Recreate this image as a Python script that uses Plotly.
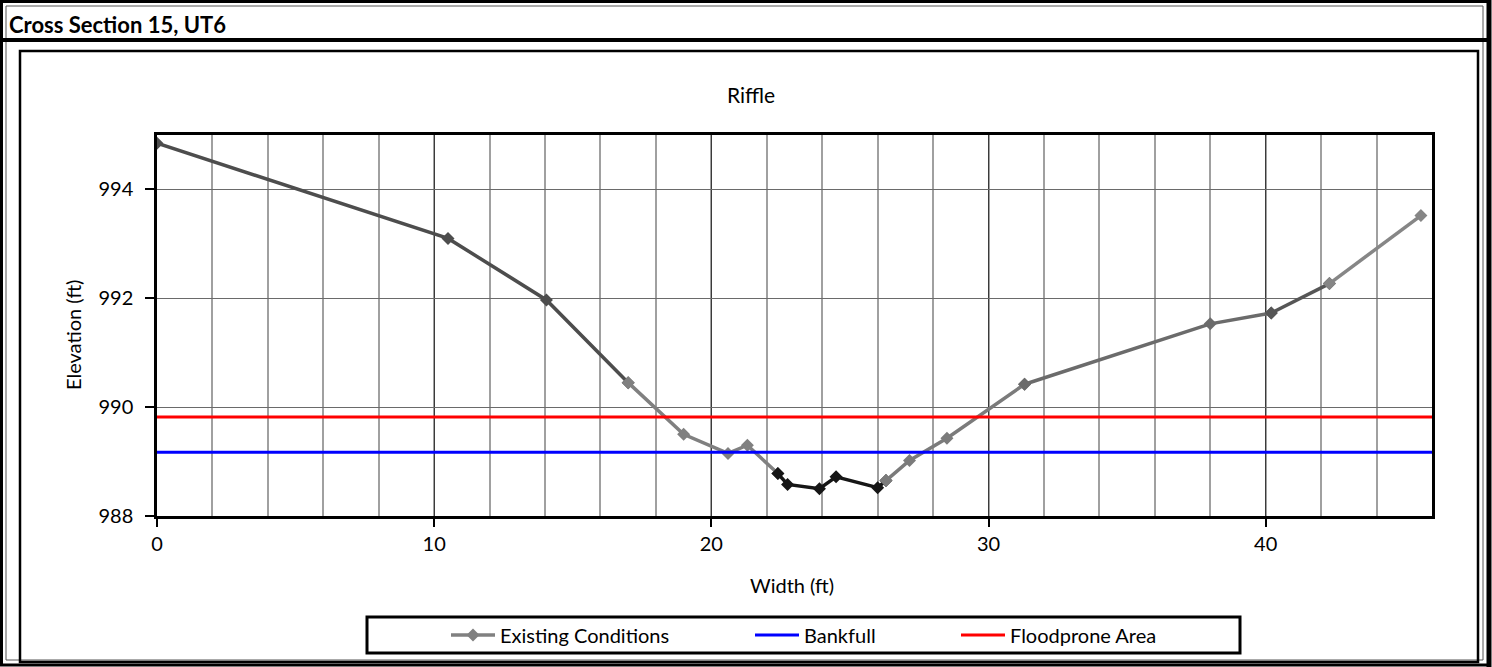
import plotly.graph_objects as go

# Surveyed cross-section: station across the channel (ft) and ground elevation (ft)
station = [0.0, 10.5, 14.05, 17.0, 19.0, 20.6, 21.3, 22.4, 22.75, 23.9,
           24.5, 26.0, 26.3, 27.15, 28.5, 31.3, 38.0, 40.2, 42.3, 45.6]
elevation = [994.85, 993.1, 991.97, 990.45, 989.5, 989.15, 989.3, 988.78, 988.58, 988.5,
             988.72, 988.52, 988.65, 989.02, 989.43, 990.42, 991.53, 991.73, 992.27, 993.52]

# Reference water-surface elevations (ft)
bankfull_elev = 989.17
floodprone_elev = 989.82
level_extent = [0, 46]

x_ticks = [0, 10, 20, 30, 40]
y_ticks = [988, 990, 992, 994]

series_names = ["Existing Conditions", "Bankfull", "Floodprone Area"]
chart_title = "Riffle"
panel_title = "Cross Section 15, UT6"

# ---- page geometry (pixels) ----
W, H = 1492, 667
L, R, T, B = 157, 1432, 135, 516
FONT = "Lato, 'Open Sans', sans-serif"


def px(x):
    return (x - L) / (R - L)


def py(y):
    return (B - y) / (B - T)


fig = go.Figure()

# Ground profile, drawn in runs so the tone of the line varies along the section
runs = [(0, 3, "#4d4d4d"), (3, 7, "#808080"), (7, 12, "#161616"), (12, 15, "#7b7b7b"),
        (15, 17, "#6b6b6b"), (17, 18, "#565656"), (18, 19, "#868686")]
for i, (a, b, col) in enumerate(runs):
    fig.add_trace(go.Scatter(
        x=station[a:b + 1], y=elevation[a:b + 1],
        mode="lines+markers",
        line=dict(color=col, width=3.5),
        marker=dict(symbol="diamond", size=10, color=col),
        name=series_names[0], legendgroup="ec", legend="legend",
        showlegend=(i == 1),
    ))

fig.add_trace(go.Scatter(
    x=level_extent, y=[bankfull_elev, bankfull_elev], mode="lines",
    line=dict(color="#0000ff", width=3), name=series_names[1], legend="legend2",
))
fig.add_trace(go.Scatter(
    x=level_extent, y=[floodprone_elev, floodprone_elev], mode="lines",
    line=dict(color="#ff0000", width=3), name=series_names[2], legend="legend3",
))

# ---- frames drawn around the chart ----
shapes = []


def rect(x0, y0, x1, y1, color="black", width=2):
    shapes.append(dict(type="rect", xref="paper", yref="paper",
                       x0=px(x0), x1=px(x1), y0=py(y1), y1=py(y0),
                       line=dict(color=color, width=width), fillcolor="rgba(0,0,0,0)"))


def hline(x0, x1, y, color="black", width=2):
    shapes.append(dict(type="line", xref="paper", yref="paper",
                       x0=px(x0), x1=px(x1), y0=py(y), y1=py(y),
                       line=dict(color=color, width=width)))


def vline(x, y0, y1, color="black", width=2):
    shapes.append(dict(type="line", xref="paper", yref="paper",
                       x0=px(x), x1=px(x), y0=py(y0), y1=py(y1),
                       line=dict(color=color, width=width)))


rect(1.5, 1.5, 1489, 665, width=3)          # outer border
rect(6, 6, 1483, 660, color="#555555", width=1)
vline(1489, 0, 667, width=5)                # heavy right edge
hline(2, 1489, 40, width=4)                 # title bar divider
rect(20, 51, 1478, 662, width=2.5)          # chart area frame
rect(367, 617, 1240, 653, width=3)          # legend box

annotations = [
    dict(text="<b>" + panel_title + "</b>", xref="paper", yref="paper",
         x=px(7), y=py(24), xanchor="left", yanchor="middle", showarrow=False,
         font=dict(family=FONT, size=22, color="black")),
    dict(text=chart_title, xref="paper", yref="paper",
         x=px(751), y=py(94), xanchor="center", yanchor="middle", showarrow=False,
         font=dict(family=FONT, size=21, color="black")),
    dict(text="Elevation (ft)", xref="paper", yref="paper", textangle=-90,
         x=px(73), y=py(335), xanchor="center", yanchor="middle", showarrow=False,
         font=dict(family=FONT, size=20, color="black")),
    dict(text="Width (ft)", xref="paper", yref="paper",
         x=px(792), y=py(585), xanchor="center", yanchor="middle", showarrow=False,
         font=dict(family=FONT, size=20, color="black")),
]

leg_common = dict(orientation="h", bgcolor="rgba(0,0,0,0)", borderwidth=0,
                  font=dict(family=FONT, size=20, color="black"), itemwidth=44,
                  yanchor="middle", y=py(635), xanchor="left")

fig.update_layout(
    width=W, height=H, autosize=False,
    margin=dict(l=L, r=W - R, t=T, b=H - B, pad=0),
    paper_bgcolor="white", plot_bgcolor="white",
    font=dict(family=FONT, size=20, color="black"),
    showlegend=True,
    legend=dict(x=px(446), **leg_common),
    legend2=dict(x=px(750), **leg_common),
    legend3=dict(x=px(956), **leg_common),
    shapes=shapes,
    annotations=annotations,
    xaxis=dict(
        range=[0, 46], tickvals=x_ticks, showgrid=True, gridcolor="#3a3a3a", gridwidth=1,
        minor=dict(dtick=2, tick0=0, showgrid=True, gridcolor="#a0a0a0", gridwidth=2),
        showline=True, linecolor="black", linewidth=3, mirror=True,
        ticks="outside", ticklen=8, tickcolor="black", tickwidth=1.5,
        tickfont=dict(family=FONT, size=20, color="black"), zeroline=False,
    ),
    yaxis=dict(
        range=[988, 995], tickvals=y_ticks, showgrid=True, gridcolor="#6a6a6a", gridwidth=1,
        showline=True, linecolor="black", linewidth=2.5, mirror=True,
        ticks="outside", ticklen=9, tickcolor="black", tickwidth=1.5,
        ticklabelstandoff=8,
        tickfont=dict(family=FONT, size=20, color="black"), zeroline=False,
    ),
)

fig.write_html("out.html")
